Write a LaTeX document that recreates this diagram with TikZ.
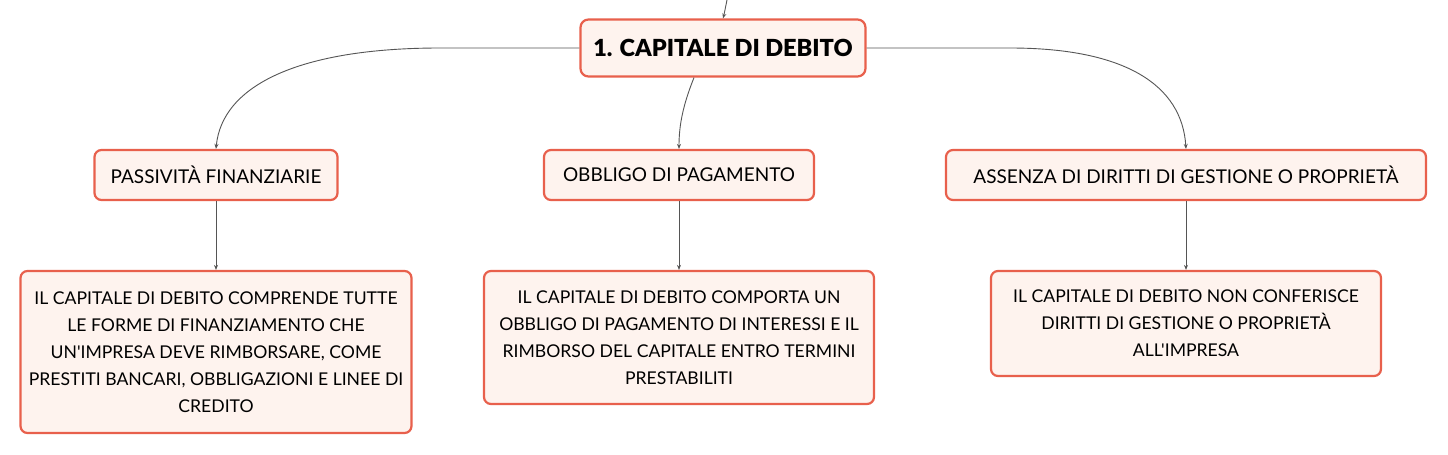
\documentclass[tikz,border=0pt]{standalone}
\usepackage{fontspec}
\setmainfont{Lato}[Ligatures=TeXOff]
\newfontfamily\titlefont{Lato Black}[Ligatures=TeXOff]
\usetikzlibrary{arrows.meta,positioning}

\definecolor{mmred}{HTML}{E8604C}
\definecolor{mmfill}{HTML}{FEF3EE}
\definecolor{linegray}{HTML}{555555}

\tikzset{
  topic/.style={draw=mmred, fill=mmfill, line width=2.2pt, rounded corners=8pt,
    font=\titlefont\fontsize{23.5}{26}\selectfont, minimum width=285pt, minimum height=57pt},
  sub/.style={draw=mmred, fill=mmfill, line width=2.2pt, rounded corners=7pt,
    font=\fontsize{19}{27}\selectfont, minimum height=50pt, inner xsep=12pt},
  leaf/.style={sub, align=center, inner xsep=4pt, font=\fontsize{17.6}{27}\selectfont},
  link/.style={draw=linegray, line width=0.9pt, -{Stealth[length=5pt,width=4pt]}}
}

\begin{document}
\begin{tikzpicture}[x=1pt,y=-1pt]
    \useasboundingbox[fill=white] (0,0) rectangle (1448,455);

    \node[topic] (capitale) at (723,48) {1. CAPITALE DI DEBITO};

    \node[sub, minimum width=243pt] (passivita) at (216,175) {PASSIVITÀ FINANZIARIE};
    \node[sub, minimum width=270pt] (obbligo) at (679,175) {OBBLIGO DI PAGAMENTO};
    \node[sub, minimum width=480pt] (assenza) at (1186,175) {ASSENZA DI DIRITTI DI GESTIONE O PROPRIETÀ};

    \node[leaf, minimum width=391pt, minimum height=162pt] (passivitatxt) at (216,352)
      {IL CAPITALE DI DEBITO COMPRENDE TUTTE\\LE FORME DI FINANZIAMENTO CHE\\UN'IMPRESA DEVE RIMBORSARE, COME\\PRESTITI BANCARI, OBBLIGAZIONI E LINEE DI\\CREDITO};
    \node[leaf, minimum width=390pt, minimum height=133pt] (obbligotxt) at (679,337.5)
      {IL CAPITALE DI DEBITO COMPORTA UN\\OBBLIGO DI PAGAMENTO DI INTERESSI E IL\\RIMBORSO DEL CAPITALE ENTRO TERMINI\\PRESTABILITI};
    \node[leaf, minimum width=390pt, minimum height=105pt] (assenzatxt) at (1186,323.5)
      {IL CAPITALE DI DEBITO NON CONFERISCE\\DIRITTI DI GESTIONE O PROPRIETÀ\\ALL'IMPRESA};

    % incoming branch
    \coordinate (ingresso) at (727,0);
    \draw[link] (ingresso) .. controls (726,8) .. (capitale.north);

    % first level
    \draw[link] (capitale.west) -- (440,48) .. controls (300,48) and (222,85) .. (passivita.north);
    \draw[link] ([xshift=-29pt]capitale.south) .. controls (683,105) and (679,125) .. (obbligo.north);
    \draw[link] (capitale.east) -- (1010,48) .. controls (1125,48) and (1182,85) .. (assenza.north);

    % second level
    \draw[link] (passivita) -- (passivitatxt);
    \draw[link] (obbligo) -- (obbligotxt);
    \draw[link] (assenza) -- (assenzatxt);
\end{tikzpicture}
\end{document}
